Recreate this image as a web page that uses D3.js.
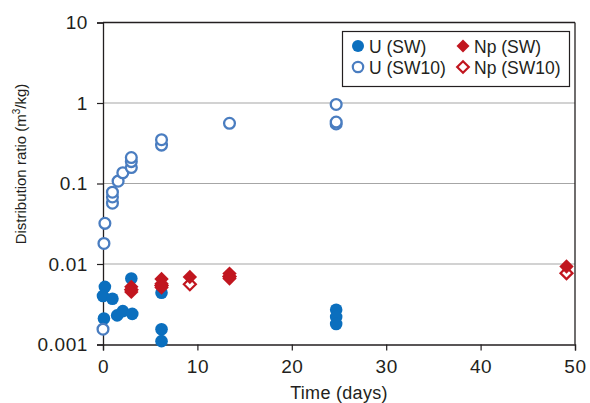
<!DOCTYPE html>
<html>
<head>
<meta charset="utf-8">
<script src="https://cdn.jsdelivr.net/npm/d3@7"></script>
<style>
  body { margin: 0; background: #fff; }
  svg text { font-family: "Liberation Sans", Arial, sans-serif; fill: #231f20; }
</style>
</head>
<body>
<div id="chart"></div>
<script>
// Data: [time in days, distribution ratio m3/kg]
const uSW = [
  [0.2, 0.0052], [0.0, 0.0040], [1.0, 0.0037], [1.5, 0.0023], [2.1, 0.0026],
  [3.1, 0.0024], [0.1, 0.0021], [3.0, 0.0066], [6.2, 0.0044], [6.2, 0.00155],
  [6.2, 0.0011], [24.7, 0.0027], [24.7, 0.0022], [24.7, 0.0018]
];
const uSW10 = [
  [0.0, 0.00155], [0.1, 0.018], [0.2, 0.032], [1.0, 0.057], [1.0, 0.068],
  [1.0, 0.078], [1.6, 0.107], [2.1, 0.136], [3.0, 0.158], [3.0, 0.187],
  [3.0, 0.21], [6.2, 0.30], [6.2, 0.35], [13.4, 0.56], [24.7, 0.96],
  [24.7, 0.55], [24.7, 0.58]
];
const npSW = [
  [3.0, 0.0052], [3.0, 0.0045], [6.2, 0.0065], [6.2, 0.0057], [6.2, 0.0051],
  [9.2, 0.0069], [13.4, 0.0076], [13.4, 0.0066], [49.1, 0.0093]
];
const npSW10 = [
  [3.0, 0.0048], [6.2, 0.0054], [9.2, 0.0056], [13.4, 0.0070], [49.1, 0.0077]
];

const xTicks = [0, 10, 20, 30, 40, 50];
const yTicks = [0.001, 0.01, 0.1, 1, 10];
const yTickLabels = ["0.001", "0.01", "0.1", "1", "10"];
const gridValues = [0.01, 0.1, 1];
const legendLabels = ["U (SW)", "Np (SW)", "U (SW10)", "Np (SW10)"];

const width = 590, height = 403;
const plotLeft = 103, plotRight = 575, plotTop = 22.5, plotBottom = 344.5;

const blue = "#0b6fbe", lightBlue = "#4a7dc0", red = "#c1161f", axisColor = "#231f20";

const svg = d3.select("#chart").append("svg")
  .attr("width", width)
  .attr("height", height);

const x = d3.scaleLinear().domain([0, 50]).range([plotLeft, plotRight]);
const y = d3.scaleLog().domain([0.001, 10]).range([plotBottom, plotTop]);

// grid lines
svg.append("g").selectAll("line")
  .data(gridValues)
  .enter().append("line")
  .attr("x1", plotLeft).attr("x2", plotRight)
  .attr("y1", d => y(d)).attr("y2", d => y(d))
  .attr("stroke", "#a6a6a6")
  .attr("stroke-width", 1.2);

// frame: top and right
svg.append("line")
  .attr("x1", plotLeft).attr("x2", plotRight).attr("y1", plotTop).attr("y2", plotTop)
  .attr("stroke", axisColor).attr("stroke-width", 1.3);
svg.append("line")
  .attr("x1", plotRight).attr("x2", plotRight).attr("y1", plotTop).attr("y2", plotBottom)
  .attr("stroke", axisColor).attr("stroke-width", 1.3);

// axes
const xAxis = d3.axisBottom(x).tickValues(xTicks).tickFormat(d3.format("d"))
  .tickSizeOuter(0).tickSize(6).tickPadding(9);
const yAxis = d3.axisLeft(y).tickValues(yTicks)
  .tickFormat((d, i) => yTickLabels[i])
  .tickSizeOuter(0).tickSize(6).tickPadding(9);

const gx = svg.append("g")
  .attr("transform", "translate(0," + plotBottom + ")")
  .call(xAxis);
const gy = svg.append("g")
  .attr("transform", "translate(" + plotLeft + ",0)")
  .call(yAxis);

[gx, gy].forEach(g => {
  g.select(".domain").attr("stroke", axisColor).attr("stroke-width", 1.3);
  g.selectAll(".tick line").attr("stroke", axisColor).attr("stroke-width", 1.2);
  g.selectAll(".tick text")
    .attr("fill", axisColor)
    .style("font-size", "19px")
    .style("letter-spacing", "0.6px")
    .style("font-family", "'Liberation Sans', Arial, sans-serif");
});

// axis titles
svg.append("text")
  .attr("x", (plotLeft + plotRight) / 2)
  .attr("y", 399)
  .attr("text-anchor", "middle")
  .style("font-size", "18px")
  .style("letter-spacing", "0.3px")
  .text("Time (days)");

const yTitle = svg.append("text")
  .attr("transform", "translate(26,164) rotate(-90)")
  .attr("text-anchor", "middle")
  .style("font-size", "15px");
yTitle.append("tspan").text("Distribution ratio (m");
yTitle.append("tspan").attr("dy", -6).style("font-size", "10px").text("3");
yTitle.append("tspan").attr("dy", 6).text("/kg)");

// markers
const diamond = s => `M0,${-s}L${s},0L0,${s}L${-s},0Z`;

svg.append("g").selectAll("circle")
  .data(uSW).enter().append("circle")
  .attr("cx", d => x(d[0])).attr("cy", d => y(d[1]))
  .attr("r", 6.3)
  .attr("fill", blue);

svg.append("g").selectAll("circle")
  .data(uSW10).enter().append("circle")
  .attr("cx", d => x(d[0])).attr("cy", d => y(d[1]))
  .attr("r", 5.4)
  .attr("fill", "#fff")
  .attr("stroke", lightBlue)
  .attr("stroke-width", 2.3);

svg.append("g").selectAll("path")
  .data(npSW10).enter().append("path")
  .attr("transform", d => "translate(" + x(d[0]) + "," + y(d[1]) + ")")
  .attr("d", diamond(6))
  .attr("fill", "#fff")
  .attr("stroke", red)
  .attr("stroke-width", 2.2);

svg.append("g").selectAll("path")
  .data(npSW).enter().append("path")
  .attr("transform", d => "translate(" + x(d[0]) + "," + y(d[1]) + ")")
  .attr("d", diamond(7.2))
  .attr("fill", red);

// legend
const legend = svg.append("g");
legend.append("rect")
  .attr("x", 342.5).attr("y", 31.5)
  .attr("width", 227).attr("height", 55)
  .attr("fill", "#fff")
  .attr("stroke", axisColor)
  .attr("stroke-width", 1.2);

const legendRows = [46, 67];
const legendCols = [358, 463];
legendLabels.forEach((label, i) => {
  const cx = legendCols[i % 2], cy = legendRows[Math.floor(i / 2)];
  if (i === 0) {
    legend.append("circle").attr("cx", cx).attr("cy", cy).attr("r", 6).attr("fill", blue);
  } else if (i === 2) {
    legend.append("circle").attr("cx", cx).attr("cy", cy).attr("r", 5.2)
      .attr("fill", "#fff").attr("stroke", lightBlue).attr("stroke-width", 2.2);
  } else if (i === 1) {
    legend.append("path").attr("transform", `translate(${cx},${cy})`)
      .attr("d", diamond(6.5)).attr("fill", red);
  } else {
    legend.append("path").attr("transform", `translate(${cx},${cy})`)
      .attr("d", diamond(5.8)).attr("fill", "#fff")
      .attr("stroke", red).attr("stroke-width", 2.2);
  }
  legend.append("text")
    .attr("x", cx + 11)
    .attr("y", cy + 6.5)
    .style("font-size", "17.5px")
    .text(label);
});
</script>
</body>
</html>
